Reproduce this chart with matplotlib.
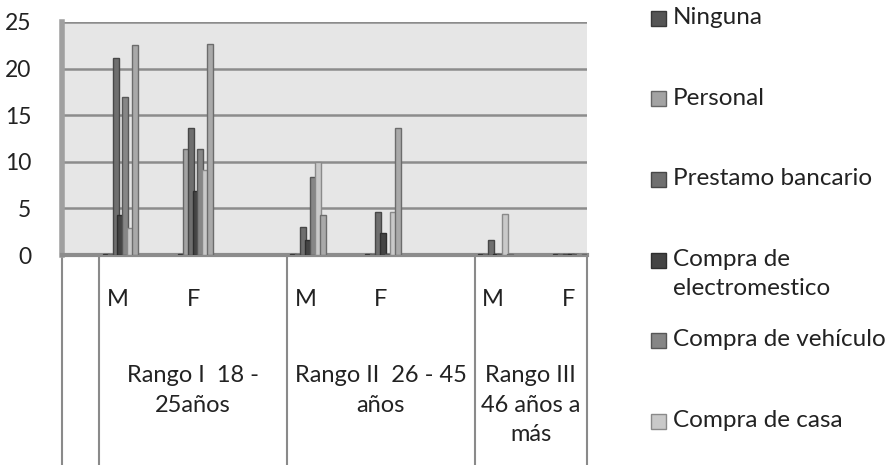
import matplotlib
matplotlib.use("Agg")
import matplotlib.pyplot as plt
from matplotlib.patches import Rectangle
from matplotlib.transforms import blended_transform_factory

plt.rcParams['font.family'] = ['Lato', 'DejaVu Sans']

# x axis is a table with blank rows, as in the spreadsheet
categories = ['', 'M', '', 'F', '', '', 'M', '', 'F', '', '', 'M', '', 'F']
rangos = ['Rango I  18 -\n25años', 'Rango II  26 - 45\naños', 'Rango III\n46 años a\nmás']
rango_spans = [(1, 5), (6, 10), (11, 13)]

series_names = ['Ninguna', 'Personal', 'Prestamo bancario',
                'Compra de\nelectromestico', 'Compra de vehículo', 'Compra de casa',
                None]  # last series legend entry is cut off in the original
# values per M/F column: RI-M, RI-F, RII-M, RII-F, RIII-M, RIII-F
ninguna = [0, 0, 0, 0, 0, 0]
personal = [0, 11.4, 0, 0, 0, 0]
prestamo = [21.1, 13.6, 3.0, 4.6, 1.6, 0]
electro = [4.3, 6.9, 1.6, 2.4, 0, 0]
vehiculo = [17.0, 11.4, 8.4, 0, 0, 0]
casa = [2.9, 9.1, 10.0, 4.6, 4.4, 0]
otros = [22.5, 22.6, 4.3, 13.6, 0, 0]
series = [ninguna, personal, prestamo, electro, vehiculo, casa, otros]

colors = ['#555555', '#a3a3a3', '#6f6f6f', '#444444', '#868686', '#c9c9c9', '#a9a9a9']
edges = ['#383838', '#666666', '#474747', '#2e2e2e', '#575757', '#8a8a8a', '#6c6c6c']

fig = plt.figure(figsize=(8.95, 4.65), dpi=100)
ax = fig.add_axes([62 / 895, 210 / 465, 525 / 895, 233 / 465])
ax.set_facecolor('#e6e6e6')

xpos = [i for i, c in enumerate(categories) if c]
for j, vals in enumerate(series):
    xs = [p + (j - 3) * 0.13 + 0.06 for p in xpos]
    # zero values show up as a flat sliver on the floor
    ax.bar(xs, [v if v > 0 else 0.12 for v in vals], width=0.16, color=colors[j],
           edgecolor=edges[j], linewidth=1, zorder=3 + j)

ax.set_xlim(-0.5, len(categories) - 0.5)
ax.set_ylim(0, 25)
ax.set_yticks(range(0, 26, 5))
ax.tick_params(axis='y', length=0, pad=22, labelsize=16.5, labelcolor='#222222')
ax.set_xticks([])
ax.yaxis.grid(True, color='#8c8c8c', linewidth=1.8)
ax.set_axisbelow(True)
for s in ['top', 'right']:
    ax.spines[s].set_visible(False)
ax.spines['left'].set_color('#a0a0a0')
ax.spines['left'].set_linewidth(4)
ax.spines['bottom'].set_color('#8c8c8c')
ax.spines['bottom'].set_linewidth(3)

# table-like label area under the plot
tr = blended_transform_factory(ax.transData, ax.transAxes)
bottom = -220 / 233
for xv in [-0.5] + [a - 0.5 for a, b in rango_spans] + [len(categories) - 0.5]:
    ax.plot([xv, xv], [0, bottom], color='#8a8a8a', lw=1.5, transform=tr, clip_on=False)

for i, c in enumerate(categories):
    if c:
        ax.text(i, -45 / 233, c, transform=tr, ha='center', va='center',
                fontsize=17, color='#222222')

for label, (a, b) in zip(rangos, rango_spans):
    ax.text((a + b) / 2, -110 / 233, label, transform=tr, ha='center', va='top',
            fontsize=17, color='#222222', linespacing=1.5)

# legend, drawn by hand to keep the spreadsheet spacing
for i, name in enumerate(series_names):
    if name is None:
        continue
    yc = 465 - (18 + 80.5 * i)
    fig.patches.append(Rectangle((651 / 895, (yc - 8) / 465), 15 / 895, 15 / 465,
                                 transform=fig.transFigure, facecolor=colors[i],
                                 edgecolor=edges[i], linewidth=1))
    fig.text(673 / 895, (yc + 11) / 465, name, ha='left', va='top', fontsize=17.5,
             color='#222222', linespacing=1.5)

plt.savefig('out.png', dpi=100)
